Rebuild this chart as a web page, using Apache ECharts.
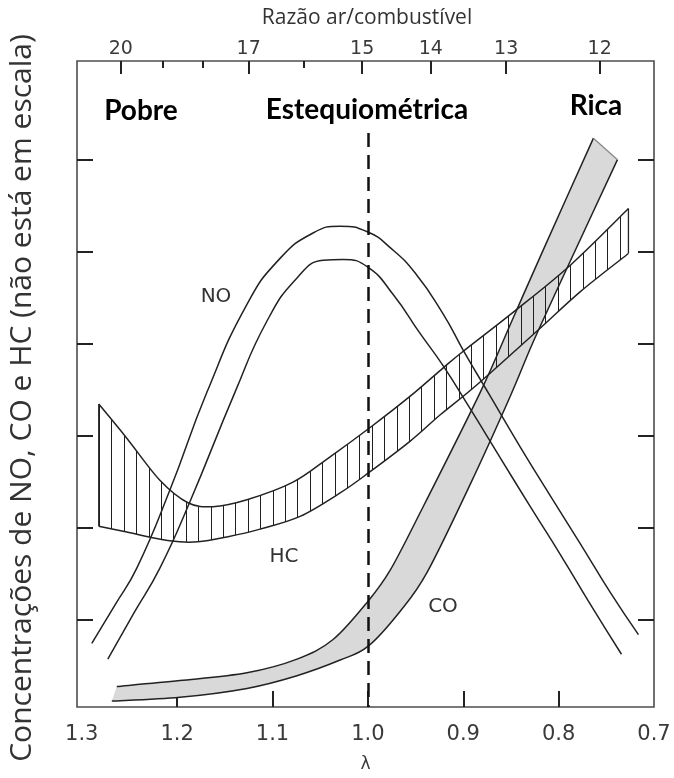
<!DOCTYPE html>
<html>
<head>
<meta charset="utf-8">
<script src="https://cdn.jsdelivr.net/npm/echarts@6/dist/echarts.min.js"></script>
<style>
  html, body { margin: 0; padding: 0; background: #fff; }
  #chart { width: 674px; height: 778px; }
</style>
</head>
<body>
<div id="chart"></div>
<script>
// Bottom axis: excess-air ratio λ (drawn reversed, lean on the left)
const lambdaLabels = [1.3, 1.2, 1.1, 1.0, 0.9, 0.8, 0.7];
const lambdaTicks = [1.2, 1.1, 1.0, 0.9, 0.8];

// Top axis: air/fuel ratio marks placed at their λ positions
const afrMajorText = ['20', '17', '15', '14', '13', '12'];
const afrMajorLambda = [1.259, 1.125, 1.006, 0.934, 0.855, 0.757];
const afrMinorLambda = [1.2155, 1.173, 1.067];

// Vertical scale ticks (relative units, not to scale)
const levelTicks = [1, 2, 3, 4, 5, 6];

// NO: two bounding curves
const noUpper = [
  [1.2895, 0.745], [1.2654, 1.159], [1.2423, 1.563], [1.2076, 2.412],
  [1.1688, 3.473], [1.1268, 4.429], [1.0921, 4.928], [1.0575, 5.204],
  [1.0291, 5.278], [1.0, 5.214], [0.9766, 5.045], [0.9504, 4.769],
  [0.921, 4.323], [0.9, 3.93], [0.8717, 3.431], [0.8402, 2.879],
  [0.8087, 2.348], [0.7772, 1.828], [0.7457, 1.297], [0.7163, 0.841]
];
const noLower = [
  [1.2727, 0.575], [1.2454, 1.074], [1.2181, 1.563], [1.1866, 2.285],
  [1.1394, 3.473], [1.1058, 4.248], [1.0743, 4.716], [1.047, 4.907],
  [1.026, 4.917], [1.0, 4.832], [0.9735, 4.535], [0.9451, 4.11],
  [0.921, 3.76], [0.8926, 3.293], [0.8612, 2.762], [0.8297, 2.231],
  [0.7982, 1.711], [0.7667, 1.17], [0.7341, 0.628]
];

// HC: hatched band
const hcUpper = [
  [1.2822, 3.346], [1.2528, 2.975], [1.2181, 2.518], [1.1887, 2.274],
  [1.1625, 2.231], [1.1268, 2.306], [1.0785, 2.497], [1.0396, 2.773],
  [0.9976, 3.091], [0.9556, 3.431], [0.921, 3.739], [0.9, 3.919],
  [0.8475, 4.344], [0.7877, 4.854], [0.7268, 5.469]
];
const hcLower = [
  [1.2822, 2.019], [1.2528, 1.955], [1.2076, 1.86], [1.1782, 1.849],
  [1.1478, 1.902], [1.1131, 1.987], [1.0711, 2.125], [1.0291, 2.38],
  [0.9987, 2.603], [0.9556, 2.943], [0.9241, 3.229], [0.8853, 3.558],
  [0.8223, 4.142], [0.7772, 4.567], [0.7268, 4.981]
];

// CO: shaded band
const coUpper = [
  [1.2633, 0.278], [1.1971, 0.342], [1.1268, 0.427], [1.0743, 0.575],
  [1.0365, 0.788], [1.0, 1.202], [0.9766, 1.541], [0.9451, 2.168],
  [0.8822, 3.473], [0.8486, 4.259], [0.816, 5.023], [0.7635, 6.234]
];
const coLower = [
  [1.2685, 0.119], [1.1971, 0.161], [1.1268, 0.257], [1.0743, 0.395],
  [1.0291, 0.565], [1.0, 0.713], [0.9661, 1.096], [0.9378, 1.52],
  [0.8926, 2.476], [0.8507, 3.431], [0.8265, 4.025], [0.7898, 4.854],
  [0.7383, 6.0]
];

// Stoichiometric marker
const stoichLambda = 1.0;
const stoichTop = 6.29;

const Y_MIN = 0.055, Y_MAX = 7.072;
const X_MIN = 0.7, X_MAX = 1.305;
const INK = '#222';

// Catmull-Rom spline through pixel points, as SVG path commands
function splinePath(pts, start) {
  let d = (start ? 'M' : 'L') + pts[0][0].toFixed(2) + ' ' + pts[0][1].toFixed(2);
  for (let i = 0; i < pts.length - 1; i++) {
    const p0 = pts[i - 1] || pts[i], p1 = pts[i], p2 = pts[i + 1], p3 = pts[i + 2] || pts[i + 1];
    const c1x = p1[0] + (p2[0] - p0[0]) / 6, c1y = p1[1] + (p2[1] - p0[1]) / 6;
    const c2x = p2[0] - (p3[0] - p1[0]) / 6, c2y = p2[1] - (p3[1] - p1[1]) / 6;
    d += ' C' + [c1x, c1y, c2x, c2y, p2[0], p2[1]].map(v => v.toFixed(2)).join(' ');
  }
  return d;
}

// Vertical hatch texture for the HC band
function hatchImage() {
  const c = document.createElement('canvas');
  c.width = 62; c.height = 8;
  const g = c.getContext('2d');
  g.fillStyle = '#1f1f1f';
  [0, 12, 25, 37, 50].forEach(x => g.fillRect(x, 0, 1, 8));
  return c;
}

function bandSeries(name, upper, lower, fill, opts) {
  return {
    name: name,
    type: 'custom',
    silent: true,
    data: [[1.0, 1.0]],
    z: opts.z,
    renderItem: function (params, api) {
      const up = upper.map(p => api.coord(p));
      const lo = lower.map(p => api.coord(p));
      const area = splinePath(up, true) + ' ' + splinePath(lo.slice().reverse(), false) + ' Z';
      const children = [
        { type: 'path', shape: { pathData: area }, style: { fill: fill, stroke: null } },
        { type: 'path', shape: { pathData: splinePath(up, true) }, style: { fill: null, stroke: INK, lineWidth: 1.5 } },
        { type: 'path', shape: { pathData: splinePath(lo, true) }, style: { fill: null, stroke: INK, lineWidth: 1.5 } }
      ];
      if (opts.startCap) {
        children.push({ type: 'line', shape: { x1: up[0][0], y1: up[0][1], x2: lo[0][0], y2: lo[0][1] },
          style: { stroke: opts.startCap, lineWidth: 1.3 } });
      }
      if (opts.endCap) {
        const a = up[up.length - 1], b = lo[lo.length - 1];
        children.push({ type: 'line', shape: { x1: a[0], y1: a[1], x2: b[0], y2: b[1] },
          style: { stroke: opts.endCap, lineWidth: 1.3 } });
      }
      return { type: 'group', children: children };
    }
  };
}

function curveSeries(name, pts) {
  return {
    name: name, type: 'line', data: pts, smooth: 0.5, symbol: 'none', silent: true,
    lineStyle: { color: INK, width: 1.5 }, z: 3
  };
}

const chart = echarts.init(document.getElementById('chart'), null, { renderer: 'canvas' });

const tickStyle = { color: '#222', width: 2 };
const noSeries = curveSeries('NO', noUpper);
noSeries.markLine = {
  silent: true, symbol: ['none', 'none'], label: { show: false },
  lineStyle: { color: '#111', width: 2.5, type: [14, 8] },
  data: [[{ coord: [stoichLambda, stoichTop] }, { coord: [stoichLambda, Y_MIN] }]]
};

chart.setOption({
  animation: false,
  backgroundColor: '#fff',
  grid: { left: 77, right: 20, top: 61, bottom: 56, show: true, borderColor: '#4d4d4d', borderWidth: 1.6 },
  xAxis: [
    {
      type: 'value', position: 'bottom', min: X_MIN, max: X_MAX, inverse: true,
      axisLine: { show: false }, splitLine: { show: false },
      axisTick: { show: true, inside: true, length: 16, lineStyle: tickStyle, customValues: lambdaTicks },
      axisLabel: { customValues: lambdaLabels, formatter: v => v.toFixed(1), margin: 17,
        fontFamily: 'DejaVu Sans', fontSize: 21, color: '#3a3a3a' },
      name: 'λ', nameLocation: 'middle', nameGap: 49,
      nameTextStyle: { fontFamily: 'DejaVu Sans', fontSize: 17, color: '#3a3a3a' }
    },
    {
      type: 'value', position: 'top', min: X_MIN, max: X_MAX, inverse: true,
      axisLine: { show: false }, splitLine: { show: false },
      axisTick: { show: true, inside: true, length: 13, lineStyle: tickStyle, customValues: afrMajorLambda },
      axisLabel: { customValues: afrMajorLambda, margin: 2,
        formatter: v => afrMajorText[afrMajorLambda.indexOf(v)] || '',
        fontFamily: 'DejaVu Sans', fontSize: 19, color: '#3a3a3a' }
    },
    {
      type: 'value', position: 'top', min: X_MIN, max: X_MAX, inverse: true,
      axisLine: { show: false }, splitLine: { show: false },
      axisTick: { show: true, inside: true, length: 7, lineStyle: tickStyle, customValues: afrMinorLambda },
      axisLabel: { show: false }
    }
  ],
  yAxis: [
    {
      type: 'value', position: 'left', min: Y_MIN, max: Y_MAX,
      axisLine: { show: false }, splitLine: { show: false },
      axisTick: { show: true, inside: true, length: 16, lineStyle: tickStyle, customValues: levelTicks },
      axisLabel: { show: false }
    },
    {
      type: 'value', position: 'right', min: Y_MIN, max: Y_MAX,
      axisLine: { show: false }, splitLine: { show: false },
      axisTick: { show: true, inside: true, length: 16, lineStyle: tickStyle, customValues: levelTicks },
      axisLabel: { show: false }
    }
  ],
  series: [
    bandSeries('CO', coUpper, coLower, '#d9d9d9', { z: 1, endCap: '#8a8a8a' }),
    bandSeries('HC', hcUpper, hcLower, { image: hatchImage(), repeat: 'repeat', x: 37 }, { z: 2, startCap: INK, endCap: INK }),
    noSeries,
    curveSeries('NO ', noLower)
  ],
  graphic: [
    { type: 'text', x: 367, y: 18, style: { text: 'Razão ar/combustível', fontFamily: 'Open Sans', fontSize: 21, fill: '#333', align: 'center', verticalAlign: 'middle' } },
    { type: 'text', x: 22, y: 398, rotation: Math.PI / 2, style: { text: 'Concentrações de NO, CO e HC (não está em escala)', fontFamily: 'Open Sans', fontSize: 30, fill: '#333', align: 'center', verticalAlign: 'middle' } },
    { type: 'text', x: 141, y: 111, style: { text: 'Pobre', fontFamily: 'Lato', fontWeight: 'bold', fontSize: 28, fill: '#000', align: 'center', verticalAlign: 'middle' } },
    { type: 'text', x: 367, y: 110, style: { text: 'Estequiométrica', fontFamily: 'Lato', fontWeight: 'bold', fontSize: 28, fill: '#000', align: 'center', verticalAlign: 'middle' } },
    { type: 'text', x: 596, y: 106, style: { text: 'Rica', fontFamily: 'Lato', fontWeight: 'bold', fontSize: 28, fill: '#000', align: 'center', verticalAlign: 'middle' } },
    { type: 'text', x: 216, y: 297, style: { text: 'NO', fontFamily: 'DejaVu Sans', fontSize: 20, fill: '#333', align: 'center', verticalAlign: 'middle' } },
    { type: 'text', x: 284, y: 557, style: { text: 'HC', fontFamily: 'DejaVu Sans', fontSize: 20, fill: '#333', align: 'center', verticalAlign: 'middle' } },
    { type: 'text', x: 443, y: 607, style: { text: 'CO', fontFamily: 'DejaVu Sans', fontSize: 20, fill: '#333', align: 'center', verticalAlign: 'middle' } }
  ]
});
</script>
</body>
</html>
